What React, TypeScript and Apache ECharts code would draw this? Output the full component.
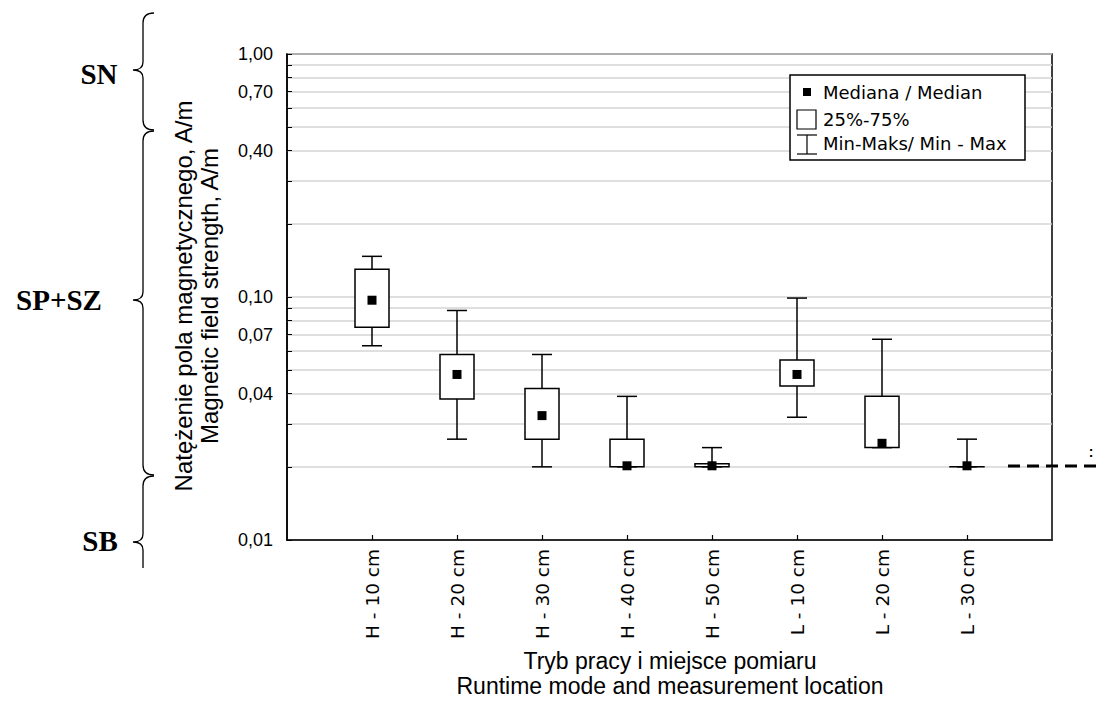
import React, { useEffect, useRef } from "react";
import * as echarts from "echarts";

const categories = ["", "H - 10 cm", "H - 20 cm", "H - 30 cm", "H - 40 cm", "H - 50 cm", "L - 10 cm", "L - 20 cm", "L - 30 cm", ""];
const minValues = [0.063, 0.026, 0.02, 0.02, 0.02, 0.032, 0.024, 0.02];
const q1Values = [0.075, 0.038, 0.026, 0.02, 0.02, 0.043, 0.024, 0.02];
const medianValues = [0.097, 0.048, 0.0325, 0.0202, 0.0202, 0.048, 0.025, 0.0202];
const q3Values = [0.13, 0.058, 0.042, 0.026, 0.0206, 0.055, 0.039, 0.02];
const maxValues = [0.147, 0.088, 0.058, 0.039, 0.024, 0.099, 0.067, 0.026];
const yLabelValues = [0.01, 0.04, 0.07, 0.1, 0.4, 0.7, 1];
const yTickValues = [0.01, 0.02, 0.03, 0.04, 0.05, 0.06, 0.07, 0.08, 0.09, 0.1, 0.2, 0.3, 0.4, 0.5, 0.6, 0.7, 0.8, 0.9, 1];

const XV = 143, XT = 133, XH = 154;
function bracePath(y1: number, ym: number, y2: number, hookBottom: boolean) {
  let d = `M ${XH} ${y1} Q ${XV} ${y1} ${XV} ${y1 + 10} L ${XV} ${ym - 8} Q ${XV} ${ym} ${XT} ${ym} Q ${XV} ${ym} ${XV} ${ym + 8}`;
  if (hookBottom) d += ` L ${XV} ${y2 - 10} Q ${XV} ${y2} ${XH} ${y2}`;
  else d += ` L ${XV} ${y2}`;
  return d;
}
echarts.graphic.registerShape("braceSN", echarts.graphic.extendPath(bracePath(13, 70, 130, true), {}));
echarts.graphic.registerShape("braceSP", echarts.graphic.extendPath(bracePath(131, 300, 475, true), {}));
echarts.graphic.registerShape("braceSB", echarts.graphic.extendPath(bracePath(476, 542, 568, false), {}));

export default function App() {
  const ref = useRef<HTMLDivElement>(null);
  useEffect(() => {
    if (!ref.current) return;
    const chart = echarts.init(ref.current, undefined, { renderer: "svg" });
    const data = medianValues.map((m, i) => [i + 1, minValues[i], q1Values[i], m, q3Values[i], maxValues[i]]);
    const sans = "'Liberation Sans', Arial, sans-serif";
    const dj = "'DejaVu Sans', sans-serif";
    const ls = { stroke: "#000", lineWidth: 1.5 };
    const Z = 100;
    chart.setOption({
      animation: false,
      backgroundColor: "#fff",
      grid: { left: 287, top: 54, right: 47, bottom: 162, show: true, borderColor: "#000", borderWidth: 1.5, backgroundColor: "transparent", outerBoundsMode: "none" },
      xAxis: {
        type: "category",
        data: categories,
        boundaryGap: false,
        axisLine: { lineStyle: { color: "#000", width: 1.5 } },
        axisTick: { inside: true, length: 5, lineStyle: { color: "#000", width: 1.2 }, interval: (i: number, v: string) => v !== "" },
        axisLabel: { interval: (i: number, v: string) => v !== "", rotate: 90, margin: 9, color: "#000", fontFamily: dj, fontSize: 18.5 },
        splitLine: { show: false },
      },
      yAxis: {
        type: "log",
        logBase: 10,
        min: 0.01,
        max: 1,
        axisLine: { show: true, lineStyle: { color: "#000", width: 1.5 } },
        axisTick: { show: true, inside: true, length: 5, customValues: yTickValues, lineStyle: { color: "#000", width: 1 } },
        axisLabel: { customValues: yLabelValues, margin: 14, color: "#000", fontFamily: sans, fontSize: 18, formatter: (v: number) => v.toFixed(2).replace(".", ",") },
        splitLine: { show: true, lineStyle: { color: "#d4d4d4", width: 1.5 } },
        minorTick: { show: false },
      },
      series: [
        {
          type: "custom",
          data,
          encode: { x: 0, y: [1, 2, 3, 4, 5] },
          renderItem: (params: any, api: any) => {
            const x = api.value(0);
            const pMin = api.coord([x, api.value(1)]);
            const pQ1 = api.coord([x, api.value(2)]);
            const pMed = api.coord([x, api.value(3)]);
            const pQ3 = api.coord([x, api.value(4)]);
            const pMax = api.coord([x, api.value(5)]);
            const cx = pMed[0];
            const bw = 34, cw = 20, ms = 9;
            return {
              type: "group",
              children: [
                { type: "line", shape: { x1: cx, y1: pMax[1], x2: cx, y2: pQ3[1] }, style: ls },
                { type: "line", shape: { x1: cx - cw / 2, y1: pMax[1], x2: cx + cw / 2, y2: pMax[1] }, style: ls },
                { type: "line", shape: { x1: cx, y1: pQ1[1], x2: cx, y2: pMin[1] }, style: ls },
                { type: "line", shape: { x1: cx - cw / 2, y1: pMin[1], x2: cx + cw / 2, y2: pMin[1] }, style: ls },
                { type: "rect", shape: { x: cx - bw / 2, y: pQ3[1], width: bw, height: Math.max(0.01, pQ1[1] - pQ3[1]) }, style: { fill: "#fff", stroke: "#000", lineWidth: 1.5 } },
                { type: "rect", shape: { x: cx - ms / 2, y: pMed[1] - ms / 2, width: ms, height: ms }, style: { fill: "#000" } },
              ],
            };
          },
        },
      ],
      graphic: [
        { type: "braceSN", x: 0, y: 0, z: Z, style: { stroke: "#000", fill: null, lineWidth: 1.3 } },
        { type: "braceSP", x: 0, y: 0, z: Z, style: { stroke: "#000", fill: null, lineWidth: 1.3 } },
        { type: "braceSB", x: 0, y: 0, z: Z, style: { stroke: "#000", fill: null, lineWidth: 1.3 } },
        { type: "text", x: 99, y: 74, z: Z, style: { text: "SN", font: "bold 29px 'Liberation Serif', serif", fill: "#000", align: "center", verticalAlign: "middle" } },
        { type: "text", x: 59, y: 300, z: Z, style: { text: "SP+SZ", font: "bold 29px 'Liberation Serif', serif", fill: "#000", align: "center", verticalAlign: "middle" } },
        { type: "text", x: 100, y: 541, z: Z, style: { text: "SB", font: "bold 29px 'Liberation Serif', serif", fill: "#000", align: "center", verticalAlign: "middle" } },
        { type: "text", x: 183, y: 296, z: Z, rotation: Math.PI / 2, style: { text: "Natężenie pola magnetycznego, A/m", font: `24px ${sans}`, fill: "#000", align: "center", verticalAlign: "middle" } },
        { type: "text", x: 209, y: 296, z: Z, rotation: Math.PI / 2, style: { text: "Magnetic field strength, A/m", font: `24px ${sans}`, fill: "#000", align: "center", verticalAlign: "middle" } },
        { type: "text", x: 670, y: 661, z: Z, style: { text: "Tryb pracy i miejsce pomiaru", font: `23px ${sans}`, fill: "#000", align: "center", verticalAlign: "middle" } },
        { type: "text", x: 670, y: 686, z: Z, style: { text: "Runtime mode and measurement location", font: `23px ${sans}`, fill: "#000", align: "center", verticalAlign: "middle" } },
        { type: "rect", z: Z, shape: { x: 790, y: 75, width: 235, height: 85 }, style: { fill: "#fff", stroke: "#000", lineWidth: 1.5 } },
        { type: "rect", z: Z + 1, shape: { x: 803, y: 88, width: 8, height: 8 }, style: { fill: "#000" } },
        { type: "rect", z: Z + 1, shape: { x: 797, y: 110, width: 19, height: 19 }, style: { fill: "#fff", stroke: "#000", lineWidth: 1.2 } },
        { type: "line", z: Z + 1, shape: { x1: 807, y1: 135, x2: 807, y2: 154 }, style: { stroke: "#000", lineWidth: 1.2 } },
        { type: "line", z: Z + 1, shape: { x1: 797, y1: 135, x2: 817, y2: 135 }, style: { stroke: "#000", lineWidth: 1.2 } },
        { type: "line", z: Z + 1, shape: { x1: 797, y1: 154, x2: 817, y2: 154 }, style: { stroke: "#000", lineWidth: 1.2 } },
        { type: "text", x: 823, y: 92, z: Z + 1, style: { text: "Mediana / Median", font: `18px ${dj}`, fill: "#000", verticalAlign: "middle" } },
        { type: "text", x: 823, y: 119, z: Z + 1, style: { text: "25%-75%", font: `18px ${dj}`, fill: "#000", verticalAlign: "middle" } },
        { type: "text", x: 823, y: 143, z: Z + 1, style: { text: "Min-Maks/ Min - Max", font: `18px ${dj}`, fill: "#000", verticalAlign: "middle" } },
        { type: "line", z: Z, shape: { x1: 1008, y1: 466, x2: 1099, y2: 466 }, style: { stroke: "#000", lineWidth: 3, lineDash: [12, 7] } },
        { type: "text", x: 1091, y: 452, z: Z, style: { text: ":", font: `bold 14px ${sans}`, fill: "#000", align: "center", verticalAlign: "middle" } },
      ],
    });
    return () => chart.dispose();
  }, []);
  return <div ref={ref} style={{ position: "absolute", left: 0, top: 0, width: 1099, height: 702 }} />;
}
